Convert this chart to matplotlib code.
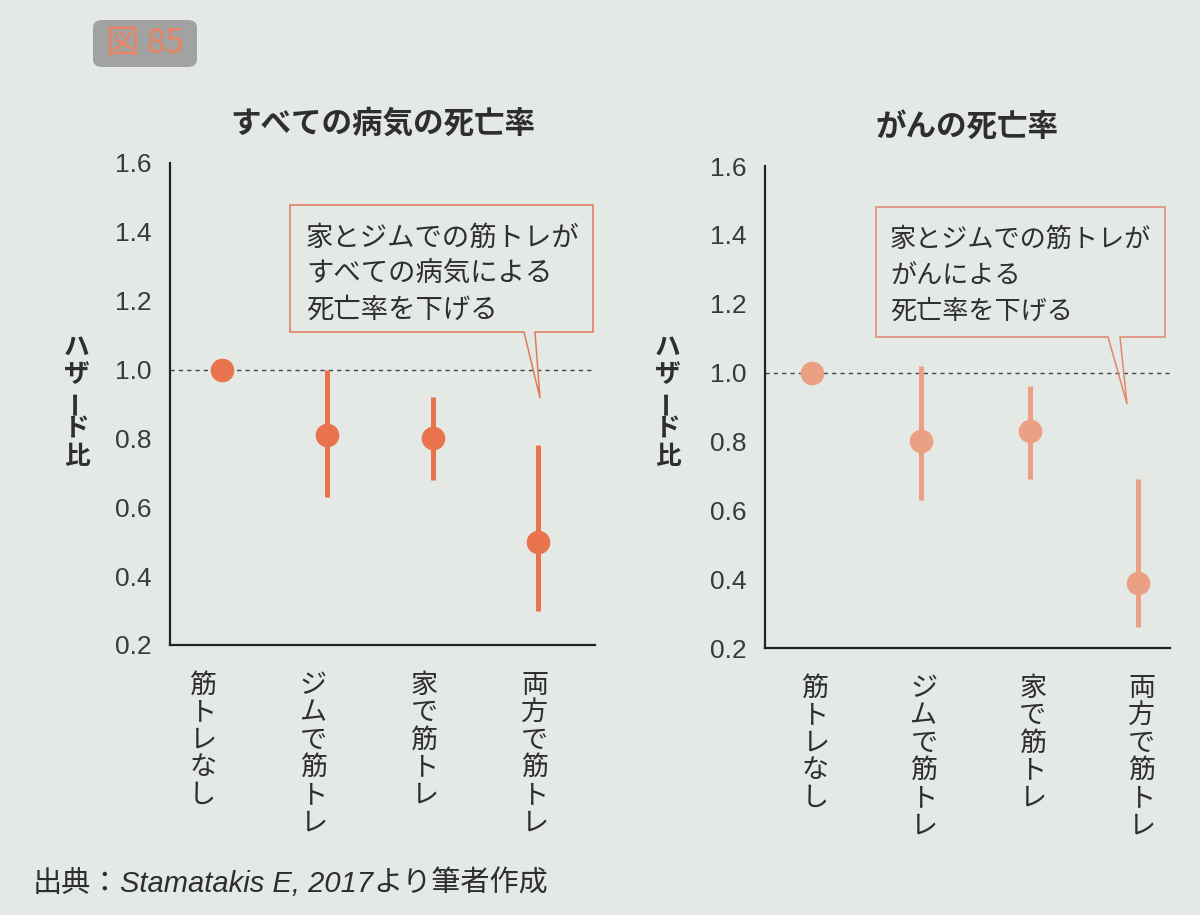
import matplotlib
matplotlib.use('Agg')
import matplotlib.pyplot as plt
import numpy as np
from matplotlib.patches import Polygon, FancyBboxPatch

plt.rcParams['font.family'] = ['Noto Sans CJK JP', 'DejaVu Sans']

W, H = 1200, 915

categories = ['筋トレなし', 'ジムで筋トレ', '家で筋トレ', '両方で筋トレ']
yticks = [0.2, 0.4, 0.6, 0.8, 1.0, 1.2, 1.4, 1.6]

# all-cause mortality (hazard ratio, 95% CI)
all_hr = [1.0, 0.81, 0.80, 0.50]
all_lo = [np.nan, 0.63, 0.68, 0.30]
all_hi = [np.nan, 1.00, 0.92, 0.78]

# cancer mortality
can_hr = [1.0, 0.80, 0.83, 0.39]
can_lo = [np.nan, 0.63, 0.69, 0.26]
can_hi = [np.nan, 1.02, 0.96, 0.69]

titles = ['すべての病気の死亡率', 'がんの死亡率']
notes = ['家とジムでの筋トレが\nすべての病気による\n死亡率を下げる',
         '家とジムでの筋トレが\nがんによる\n死亡率を下げる']

bg = '#e4e9e5'
txt = '#2e2e2e'


def fx(px):
    return px / W


def fy(py):
    return 1 - py / H


def vtext(ax, x, y_pt, s, size, pitch):
    # vertical (tategaki) text, one character at a time
    for i, ch in enumerate(s):
        ax.annotate(ch, xy=(x, 0), xycoords=('data', 'axes fraction'),
                    xytext=(0, y_pt - i * pitch), textcoords='offset points',
                    ha='center', va='center', fontsize=size, color=txt,
                    rotation=(90 if ch == 'ー' else 0), annotation_clip=False)


fig = plt.figure(figsize=(12, 9.15), dpi=100, facecolor=bg)

panels = [
    dict(rect=[fx(170), fy(645), fx(595 - 170), (645 - 163) / H], xlim=(-0.49, 3.54),
         hr=all_hr, lo=all_lo, hi=all_hi, color='#e8734c', title=titles[0],
         note=notes[0], edge='#e07a5a', note_size=19.7, lab=(1.05, -0.18), ylab_x=77,
         box=[(290, 205), (593, 205), (593, 332), (535, 332), (540, 398), (524, 332), (290, 332)],
         note_xy=(306, 274)),
    dict(rect=[fx(765), fy(648), fx(1170 - 765), (648 - 166) / H], xlim=(-0.43, 3.29),
         hr=can_hr, lo=can_lo, hi=can_hi, color='#eba084', title=titles[1],
         note=notes[1], edge='#e2866a', note_size=18.8, lab=(1.0, 0.03), ylab_x=668,
         box=[(876, 207), (1165, 207), (1165, 337), (1120, 337), (1127, 404), (1108, 337), (876, 337)],
         note_xy=(890, 275)),
]

for p in panels:
    ax = fig.add_axes(p['rect'])
    ax.set_facecolor('none')
    x = np.arange(len(categories))
    ax.axhline(1.0, color='#444444', lw=1, ls=(0, (3, 3)), zorder=1)
    for i in x:
        if not np.isnan(p['lo'][i]):
            ax.vlines(i, p['lo'][i], p['hi'][i], color=p['color'], lw=3.6, zorder=2)
    ax.plot(x, p['hr'], 'o', ms=17, color=p['color'], mec='none', zorder=3)

    ax.set_xlim(*p['xlim'])
    ax.set_ylim(0.2, 1.6)
    ax.set_yticks(yticks)
    ax.set_yticklabels(['%.1f' % t for t in yticks], family=['Liberation Sans', 'DejaVu Sans'],
                       fontsize=19, color='#3a3a3a')
    ax.tick_params(axis='y', length=0, pad=13)
    ax.set_xticks([])
    for s in ['top', 'right']:
        ax.spines[s].set_visible(False)
    for s in ['left', 'bottom']:
        ax.spines[s].set_linewidth(1.6)
        ax.spines[s].set_color('#222222')

    ax.set_title(p['title'], fontsize=22, fontweight='bold', color=txt, pad=22)

    k_scale, k_shift = p['lab']
    for i, c in enumerate(categories):
        vtext(ax, i * k_scale + k_shift, -29, c, 19.5, 19.8)

    # y label ハザード比 (vertical writing)
    for k, ch in enumerate('ハザード比'):
        fig.text(fx(p['ylab_x']), fy(347 + k * 27.5), ch, ha='center', va='center',
                 fontsize=18.5, fontweight='bold', color=txt,
                 rotation=(90 if ch == 'ー' else 0))

    # callout box
    poly = Polygon([(fx(a), fy(b)) for a, b in p['box']], closed=True,
                   transform=fig.transFigure, facecolor='none',
                   edgecolor=p['edge'], lw=1.1, zorder=5)
    fig.patches.append(poly)
    fig.text(fx(p['note_xy'][0]), fy(p['note_xy'][1]), p['note'], ha='left',
             va='center', fontsize=p['note_size'], color=txt, linespacing=1.42)

# figure number badge
badge = FancyBboxPatch((fx(93), fy(67)), fx(197 - 93), (67 - 20) / H,
                       boxstyle='round,pad=0,rounding_size=0.008',
                       transform=fig.transFigure, facecolor='#a2a2a2',
                       edgecolor='none')
fig.patches.append(badge)
fig.text(fx(145), fy(44), '図 85', ha='center', va='center', fontsize=24,
         color='#e8845f')

# source line
r = fig.canvas.get_renderer()
t1 = fig.text(fx(33), fy(884), '出典：', ha='left', va='center', fontsize=21, color=txt)
x1 = t1.get_window_extent(r).x1
t2 = fig.text(x1 / W, fy(884), 'Stamatakis E, 2017', ha='left', va='center',
              fontsize=21, style='italic', color=txt,
              family=['Liberation Sans', 'DejaVu Sans'])
x2 = t2.get_window_extent(r).x1
fig.text(x2 / W, fy(884), 'より筆者作成', ha='left', va='center', fontsize=21, color=txt)

fig.savefig('out.png', dpi=100, facecolor=bg)
